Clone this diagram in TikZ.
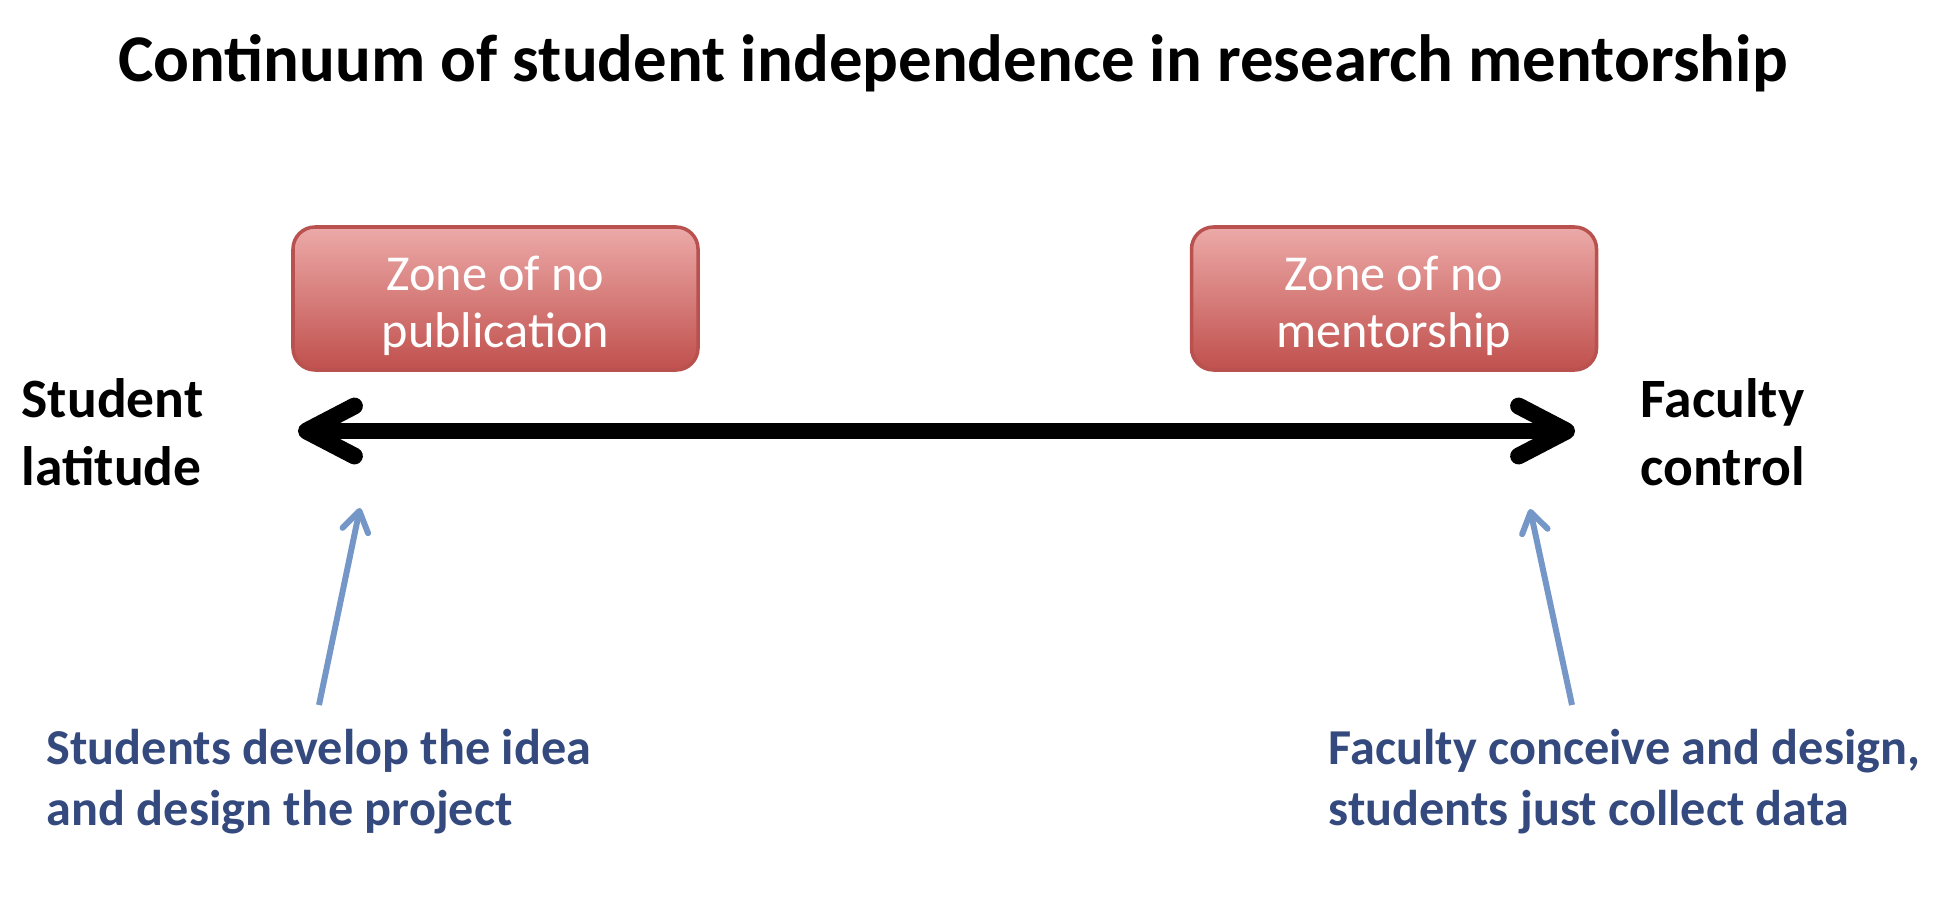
\documentclass[tikz,border=0pt]{standalone}
\usepackage{fontspec}
\setmainfont{Carlito}
\usepackage{tikz}
\usetikzlibrary{arrows.meta}

\definecolor{zonetop}{RGB}{236,170,168}
\definecolor{zonebot}{RGB}{192,80,77}
\definecolor{zoneline}{RGB}{185,82,79}
\definecolor{noteblue}{RGB}{52,73,125}
\definecolor{pointerblue}{RGB}{116,151,200}

\tikzset{
  zone/.style={draw=zoneline, line width=1pt, rounded corners=0.22cm,
    top color=zonetop, bottom color=zonebot, minimum width=4.05cm,
    minimum height=1.43cm},
  zonetext/.style={align=center, text=white, inner sep=0pt,
    font=\fontsize{14.3}{16.2}\selectfont},
  endlabel/.style={align=left, anchor=base west, inner sep=0pt,
    font=\bfseries\fontsize{15.8}{19.3}\selectfont},
  note/.style={align=left, anchor=base west, inner sep=0pt, text=noteblue,
    font=\bfseries\fontsize{14.3}{17.1}\selectfont},
  pointer/.style={draw=pointerblue, line width=1.7pt,
    -{Straight Barb[round,length=2mm,width=2.6mm]}}
}

\begin{document}
\begin{tikzpicture}
  \fill[white] (0,0) rectangle (19.41,9.11);
  \useasboundingbox (0,0) rectangle (19.41,9.11);

  \node[anchor=base, font=\bfseries\fontsize{19}{23}\selectfont] (title) at (9.53,8.30)
    {Continuum of student independence in research mentorship};

  \foreach \n/\x/\t in {nopub/4.955/publication, noment/13.94/mentorship} {
    \node[zone] (\n) at (\x,6.125) {};
    \node[zonetext] (\n text) at ([yshift=-0.07cm]\n.center) {Zone of no\\\t};
  }

  \node[endlabel] (latitude) at (0.21,4.26) {Student\\latitude};
  \node[endlabel] (control) at (16.40,4.26) {Faculty\\control};

  \coordinate (lo) at (2.98,4.80);
  \coordinate (hi) at (15.75,4.80);
  \draw[line width=4.8pt, {Straight Barb[round,length=4.8mm,width=5mm]}-{Straight Barb[round,length=4.8mm,width=5mm]}] (lo) -- (hi);

  \node[note] (idea) at (0.46,0.86) {Students develop the idea\\and design the project};
  \node[note] (collect) at (13.28,0.86) {Faculty conceive and design,\\students just collect data};

  \coordinate (idea tail) at (3.19,2.06);
  \coordinate (idea tip) at (3.60,4.03);
  \coordinate (collect tail) at (15.72,2.06);
  \coordinate (collect tip) at (15.30,4.02);
  \draw[pointer] (idea tail) -- (idea tip);
  \draw[pointer] (collect tail) -- (collect tip);
\end{tikzpicture}
\end{document}
